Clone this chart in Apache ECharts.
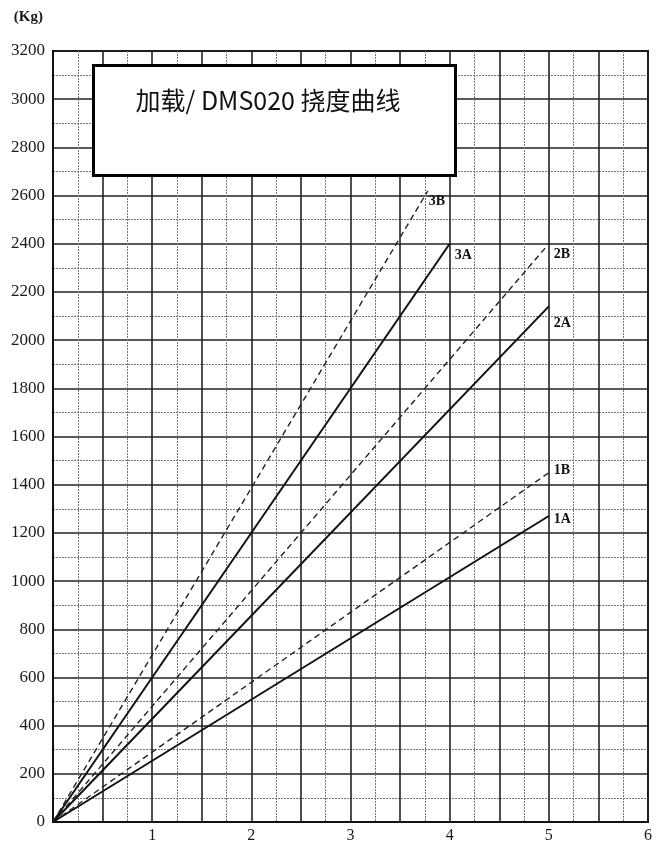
<!DOCTYPE html>
<html>
<head>
<meta charset="utf-8">
<script src="https://cdn.jsdelivr.net/npm/echarts@6/dist/echarts.min.js"></script>
<style>
  html, body { margin: 0; padding: 0; background: #fff; }
  #chart { width: 663px; height: 844px; }
</style>
</head>
<body>
<div id="chart"></div>
<script>
// curves go from the origin to these end points
const curveNames = ['1A', '1B', '2A', '2B', '3A', '3B'];
const endX = [5, 5, 5, 5, 4, 3.78];
const endY = [1270, 1450, 2140, 2400, 2400, 2620];
const titleText = '加载/ DMS020 挠度曲线';
const yUnit = '(Kg)';

// label offsets next to the end of each curve
const labelOffset = {
  '1A': [2, 3], '1B': [2, -2], '2A': [2, 17], '2B': [2, 11], '3A': [2, 12], '3B': [-2, 11]
};

const serif = '"Liberation Serif", "DejaVu Serif", serif';
const chart = echarts.init(document.getElementById('chart'));

const series = curveNames.map((name, i) => {
  const dashed = name.endsWith('B');
  return {
    name: name,
    type: 'line',
    symbol: 'none',
    z: 5,
    lineStyle: dashed ? { color: '#222', width: 1.4, type: [6, 4] } : { color: '#111', width: 2 },
    endLabel: {
      show: true,
      formatter: name,
      distance: 3,
      offset: labelOffset[name],
      fontFamily: serif,
      fontWeight: 'bold',
      fontSize: 14,
      color: '#111'
    },
    data: [[0, 0], [endX[i], endY[i]]]
  };
});

chart.setOption({
  animation: false,
  backgroundColor: '#fff',
  grid: { left: 53, right: 15, top: 51, bottom: 20, show: true, borderColor: '#111', borderWidth: 2 },
  xAxis: {
    type: 'value', min: 0, max: 6, interval: 0.5,
    axisLine: { show: true, lineStyle: { color: '#111', width: 2 } },
    axisTick: { show: false },
    axisLabel: {
      formatter: v => (v > 0 && v % 1 === 0 ? String(v) : ''),
      fontFamily: serif, fontSize: 16, color: '#1a1a1a', margin: 6
    },
    splitLine: { show: true, lineStyle: { color: '#222', width: 1.6 } },
    minorTick: { show: false, splitNumber: 2 },
    minorSplitLine: { show: true, lineStyle: { color: '#777', width: 1, type: [2, 1] } }
  },
  yAxis: {
    type: 'value', min: 0, max: 3200, interval: 200,
    name: yUnit, nameLocation: 'end', nameGap: 34,
    nameTextStyle: { fontFamily: serif, fontWeight: 'bold', fontSize: 15, color: '#1a1a1a', align: 'right', verticalAlign: 'middle', padding: [0, 10, 0, 0] },
    axisLine: { show: true, lineStyle: { color: '#111', width: 2 } },
    axisTick: { show: false },
    axisLabel: { formatter: v => String(v), fontFamily: serif, fontSize: 17, color: '#1a1a1a', margin: 8 },
    splitLine: { show: true, lineStyle: { color: '#222', width: 1.6 } },
    minorTick: { show: false, splitNumber: 2 },
    minorSplitLine: { show: true, lineStyle: { color: '#777', width: 1, type: [2, 1] } }
  },
  graphic: [
    {
      type: 'rect', left: 92, top: 64, z: 100,
      shape: { width: 362, height: 110 },
      style: { fill: '#fff', stroke: '#000', lineWidth: 3 }
    },
    {
      type: 'text', x: 268, y: 100, z: 101,
      style: { text: titleText, fontFamily: '"Noto Sans CJK SC", "Noto Sans", sans-serif', fontSize: 25, fill: '#111', align: 'center', verticalAlign: 'middle' }
    }
  ],
  series: series
});
</script>
</body>
</html>
